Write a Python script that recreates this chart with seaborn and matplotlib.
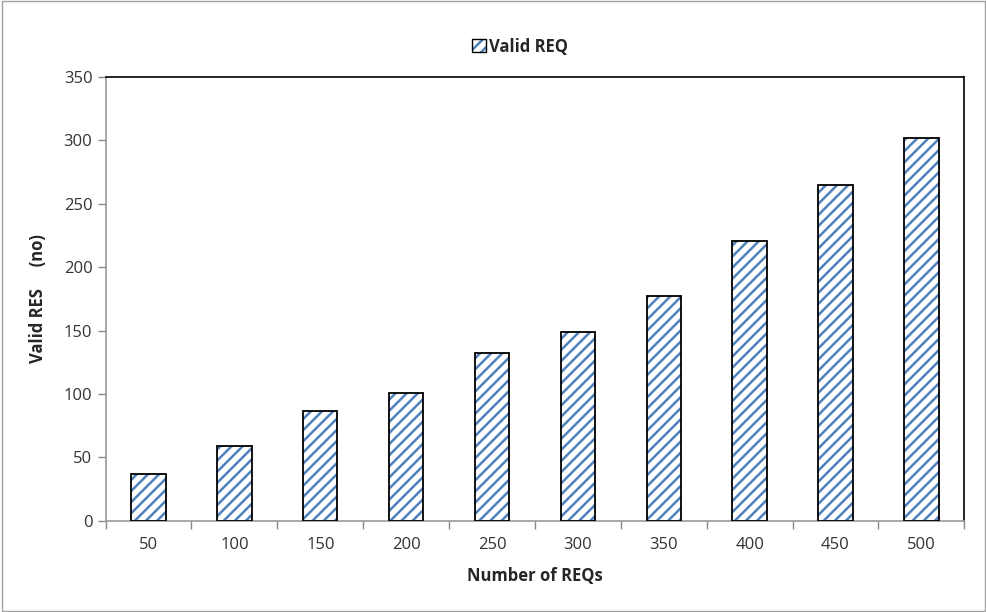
import pandas as pd
import matplotlib.pyplot as plt
import seaborn as sns
from matplotlib.patches import Rectangle

# data
req_counts = ["50", "100", "150", "200", "250", "300", "350", "400", "450", "500"]
valid_res = [37, 59, 87, 101, 132, 149, 177, 221, 265, 302]

df = pd.DataFrame({"reqs": req_counts, "valid": valid_res})

sns.set_theme(style="white")
plt.rcParams['font.family'] = ['Open Sans', 'DejaVu Sans']
plt.rcParams['hatch.linewidth'] = 1.8

fig = plt.figure(figsize=(9.87, 6.12), dpi=100)
ax = fig.add_axes([0.107, 0.149, 0.870, 0.725])

blue = "#4F81BD"
sns.barplot(data=df, x="reqs", y="valid", ax=ax, color="white",
            width=0.4, edgecolor=blue, linewidth=0, hatch="///")

# black outline on top of the hatched bars
for p in list(ax.patches):
    ax.add_patch(Rectangle(p.get_xy(), p.get_width(), p.get_height(),
                           fill=False, edgecolor="black", linewidth=1.3, zorder=3))

ax.set_ylim(0, 350)
ax.set_yticks(range(0, 351, 50))
ax.set_xlim(-0.5, len(req_counts) - 0.5)
ax.set_xticks(range(len(req_counts)))
ax.set_xticklabels(req_counts)
# tick marks between categories, like the original
ax.set_xticks([i - 0.5 for i in range(len(req_counts) + 1)], minor=True)
ax.tick_params(axis="x", which="major", length=0, labelsize=12, pad=12, colors="#333333")
ax.tick_params(axis="x", which="minor", length=6, width=1, color="#888888", direction="out", bottom=True)
ax.tick_params(axis="y", length=6, width=1, color="#888888", direction="out", left=True,
               labelsize=12, colors="#333333")

for s in ax.spines.values():
    s.set_color("black")
    s.set_linewidth(1.2)
ax.spines["left"].set_color("#999999")
ax.spines["bottom"].set_color("#999999")

ax.set_xlabel("Number of REQs", fontsize=12, fontweight="bold", labelpad=10)
ax.set_ylabel("Valid RES     (no)", fontsize=12, fontweight="bold", labelpad=12)

legend_fill = Rectangle((0, 0), 1, 1, facecolor="white", edgecolor=blue, hatch="///", linewidth=0)
legend_edge = Rectangle((0, 0), 1, 1, fill=False, edgecolor="black", linewidth=1.0)
leg = fig.legend([(legend_fill, legend_edge)], ["Valid REQ"], loc="center", bbox_to_anchor=(0.527, 0.924),
                 frameon=False, handlelength=0.85, handleheight=0.85, handletextpad=0.15,
                 prop={"weight": "bold", "size": 12})

# grey border around the whole chart area
fig.patches.append(Rectangle((0.002, 0.002), 0.996, 0.996, transform=fig.transFigure,
                             fill=False, edgecolor="#A0A0A0", linewidth=1))

fig.savefig("out.png", dpi=100)
